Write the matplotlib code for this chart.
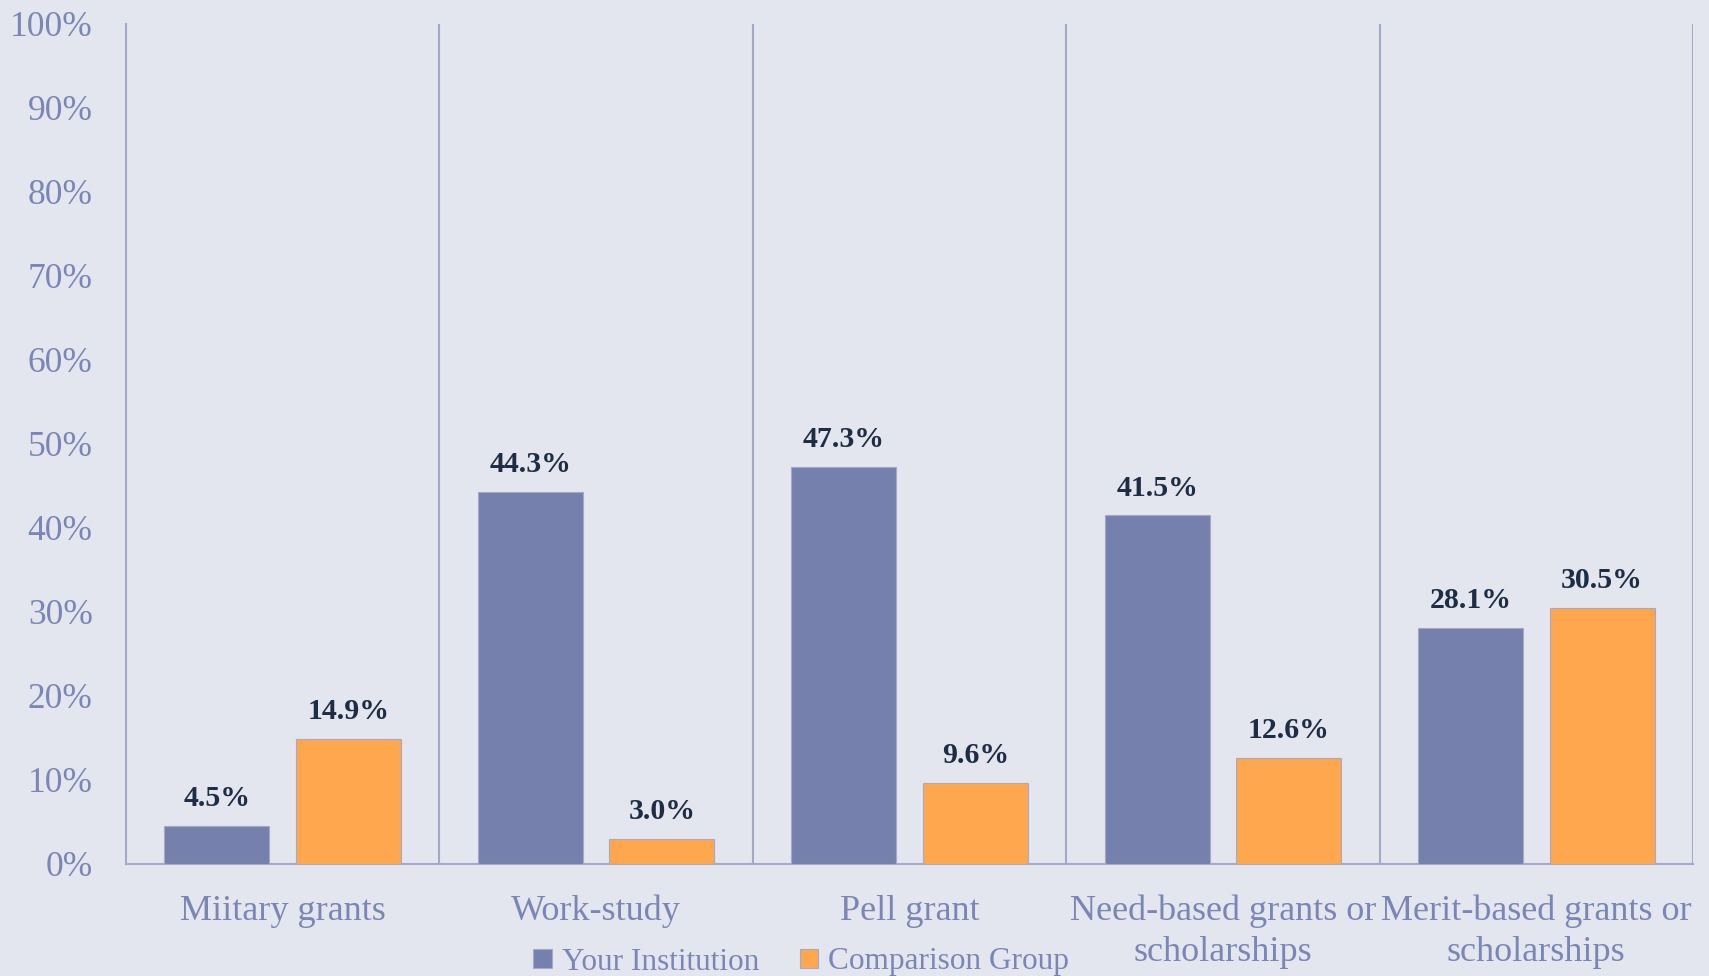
import numpy as np
import matplotlib.pyplot as plt

categories = ["Miitary grants", "Work-study", "Pell grant",
              "Need-based grants or\nscholarships", "Merit-based grants or\nscholarships"]
your_institution = [4.5, 44.3, 47.3, 41.5, 28.1]
comparison_group = [14.9, 3.0, 9.6, 12.6, 30.5]

BG = "#E3E6EE"
PURPLE = "#7680AC"
ORANGE = "#FFA74F"
LINE = "#A3A9C6"
TICK = "#7B86B5"
LABEL = "#1F2D44"

plt.rcParams["font.family"] = ["Liberation Serif", "DejaVu Serif"]

fig = plt.figure(figsize=(17.09, 9.76), dpi=100, facecolor=BG)
ax = fig.add_axes([126 / 1709, 1 - 864 / 976, (1693 - 126) / 1709, (864 - 24) / 976])
ax.set_facecolor(BG)

x = np.arange(len(categories))
w = 0.335
off = 0.21
b1 = ax.bar(x - off, your_institution, w, color=PURPLE, edgecolor=LINE, linewidth=0.8,
            label="Your Institution", zorder=3)
b2 = ax.bar(x + off, comparison_group, w, color=ORANGE, edgecolor=LINE, linewidth=0.8,
            label="Comparison Group", zorder=3)

for bars in (b1, b2):
    ax.bar_label(bars, labels=[f"{v:.1f}%" for v in bars.datavalues], padding=10,
                 fontsize=21.5, fontweight="bold", color=LABEL)

# category separators
for i in range(len(categories)):
    ax.axvline(i + 0.5, color=LINE, linewidth=1.5, zorder=1)

ax.set_xlim(-0.5, len(categories) - 0.5)
ax.set_ylim(0, 100)
ax.set_yticks(np.arange(0, 101, 10))
ax.set_yticklabels([f"{t}%" for t in range(0, 101, 10)])
ax.set_xticks(x)
ax.set_xticklabels(categories, linespacing=1.3)

ax.tick_params(axis="y", length=0, pad=24, labelsize=25.5, labelcolor=TICK)
ax.tick_params(axis="x", length=0, pad=22, labelsize=26, labelcolor=TICK)

for s in ("top", "right"):
    ax.spines[s].set_visible(False)
for s in ("left", "bottom"):
    ax.spines[s].set_color(LINE)
    ax.spines[s].set_linewidth(1.5)

fig.legend(handles=[b1, b2], loc="center", bbox_to_anchor=(801 / 1709, 1 - 962 / 976),
           ncol=2, frameon=False, fontsize=22.5, labelcolor=TICK,
           handlelength=0.6, handleheight=0.6, handletextpad=0.3, columnspacing=1.3)

fig.savefig("out.png", dpi=100, facecolor=BG)
